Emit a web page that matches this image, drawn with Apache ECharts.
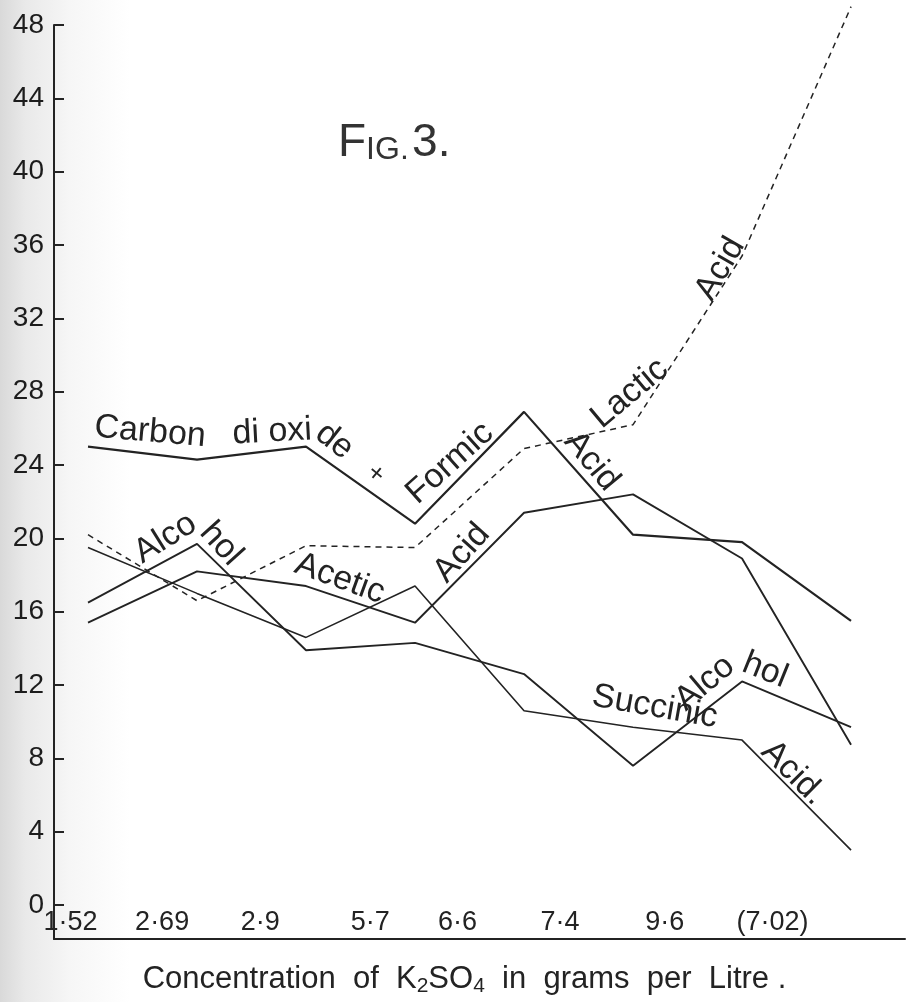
<!DOCTYPE html>
<html>
<head>
<meta charset="utf-8">
<script src="https://cdn.jsdelivr.net/npm/echarts@6/dist/echarts.min.js"></script>
<style>
  html, body { margin: 0; padding: 0; background: #fff; }
  #chart {
    width: 912px; height: 1002px;
    background: linear-gradient(90deg, #d9d9d9 0px, #e9e9e9 25px, #f6f6f6 70px, #ffffff 130px);
  }
</style>
</head>
<body>
<div id="chart"></div>
<script>
// Concentration of K2SO4 (g per litre) for each trial
const categories = ['1·52', '2·69', '2·9', '5·7', '6·6', '7·4', '9·6', '(7·02)'];

// Fermentation products
const carbonDioxideFormic = [25.0, 24.3, 25.0, 20.8, 26.9, 20.2, 19.8, 15.5];
const lacticAcid          = [20.2, 16.6, 19.6, 19.5, 24.9, 26.2, 35.4, 49.0];
const alcohol             = [16.5, 19.7, 13.9, 14.3, 12.6, 7.6, 12.2, 9.7];
const aceticAcid          = [15.4, 18.2, 17.4, 15.4, 21.4, 22.4, 18.9, 8.75];
const succinicAcid        = [19.5, 17.0, 14.6, 17.4, 10.6, 9.7, 9.0, 3.0];

// Y axis tick values
const yTicks = [0, 4, 8, 12, 16, 20, 24, 28, 32, 36, 40, 44, 48];

// Hand-lettered category labels sit a little left of their points
const xLabelAt = [-0.16, 0.68, 1.58, 2.59, 3.39, 4.33, 5.29, 6.28];

const INK = '#232323';
const FONT = "'Liberation Sans', Arial, sans-serif";

const toPairs = arr => arr.map((v, i) => [i, v]);

// In-plot lettering that names each curve (coords in axis units)
function notes(list) {
  return {
    symbol: 'circle',
    symbolSize: 1,
    silent: true,
    itemStyle: { color: 'rgba(0,0,0,0)' },
    label: { show: true, position: 'inside', color: INK, fontFamily: FONT, fontSize: 34 },
    data: list.map(n => ({
      coord: [n.x, n.y],
      label: { formatter: n.text, rotate: n.rot, fontSize: n.size || 34 }
    }))
  };
}

function line(name, values, width, extra) {
  return Object.assign({
    name,
    type: 'line',
    data: toPairs(values),
    symbol: 'none',
    lineStyle: { color: INK, width: width },
    z: 3
  }, extra || {});
}

const chart = echarts.init(document.getElementById('chart'), null, { renderer: 'canvas' });

chart.setOption({
  animation: false,
  backgroundColor: 'transparent',
  grid: { left: 54, right: 7, top: 25, bottom: 60, containLabel: false },
  xAxis: {
    type: 'value',
    min: -0.312,
    max: 7.495,
    splitLine: { show: false },
    axisLine: { show: true, onZero: false, lineStyle: { color: INK, width: 2 } },
    axisTick: { show: false },
    axisLabel: {
      show: true,
      inside: true,
      margin: 3,
      customValues: xLabelAt,
      color: INK,
      fontFamily: FONT,
      fontSize: 27,
      formatter: v => {
        let best = 0;
        xLabelAt.forEach((p, i) => { if (Math.abs(p - v) < Math.abs(xLabelAt[best] - v)) best = i; });
        return categories[best];
      }
    },
    name: 'Concentration  of  K{sub|2}SO{sub|4}  in  grams  per  Litre .',
    nameLocation: 'middle',
    nameGap: 22,
    nameTextStyle: {
      color: INK,
      fontFamily: FONT,
      fontSize: 31,
      lineHeight: 36,
      padding: [0, 30, 0, 0],
      rich: {
        sub: { fontSize: 21, lineHeight: 19, verticalAlign: 'bottom', color: INK, fontFamily: FONT }
      }
    }
  },
  yAxis: {
    type: 'value',
    min: -1.85,
    max: 48,
    splitLine: { show: false },
    axisLine: { show: true, onZero: false, lineStyle: { color: INK, width: 2 } },
    axisTick: {
      show: true,
      inside: true,
      length: 10,
      customValues: yTicks,
      lineStyle: { color: INK, width: 2 }
    },
    axisLabel: {
      show: true,
      margin: 10,
      customValues: yTicks,
      color: '#1c1c1c',
      fontFamily: FONT,
      fontSize: 28
    }
  },
  graphic: [{
    type: 'text',
    left: 338,
    top: 120,
    style: {
      text: '{big|F}{small|IG.} {big|3.}',
      fill: '#333',
      rich: {
        big: { fontSize: 46, fontFamily: FONT, fill: '#333' },
        small: { fontSize: 32, fontFamily: FONT, fill: '#333', verticalAlign: 'bottom', lineHeight: 40 }
      }
    }
  }],
  series: [
    line('Carbon di oxide + Formic Acid', carbonDioxideFormic, 2.2, {
      markPoint: notes([
        { text: 'Carbon', x: 0.57, y: 25.8, rot: -5 },
        { text: 'di oxi', x: 1.69, y: 25.8, rot: 3 },
        { text: 'de', x: 2.26, y: 25.3, rot: -38 },
        { text: '+', x: 2.64, y: 23.5, rot: -40, size: 26 },
        { text: 'Formic', x: 3.32, y: 24.1, rot: 42 },
        { text: 'Acid', x: 4.62, y: 24.2, rot: -50 }
      ])
    }),
    line('Lactic Acid', lacticAcid, 1.5, {
      clip: false,
      lineStyle: { color: INK, width: 1.5, type: [6, 5] },
      markPoint: notes([
        { text: 'Lactic', x: 4.97, y: 27.9, rot: 40 },
        { text: 'Acid', x: 5.80, y: 34.7, rot: 60 }
      ])
    }),
    line('Alcohol', alcohol, 1.9, {
      markPoint: notes([
        { text: 'Alco', x: 0.71, y: 20.0, rot: 32 },
        { text: 'hol', x: 1.22, y: 19.7, rot: -48 },
        { text: 'Alco', x: 5.66, y: 12.1, rot: 40 },
        { text: 'hol', x: 6.21, y: 12.8, rot: -22 }
      ])
    }),
    line('Acetic Acid', aceticAcid, 1.9, {
      markPoint: notes([
        { text: 'Acetic', x: 2.31, y: 17.8, rot: -20 },
        { text: 'Acid', x: 3.43, y: 19.2, rot: 48 }
      ])
    }),
    line('Succinic Acid', succinicAcid, 1.6, {
      markPoint: notes([
        { text: 'Succinic', x: 5.20, y: 10.8, rot: -10 },
        { text: 'Acid.', x: 6.47, y: 7.2, rot: -45 }
      ])
    })
  ]
});
</script>
</body>
</html>
